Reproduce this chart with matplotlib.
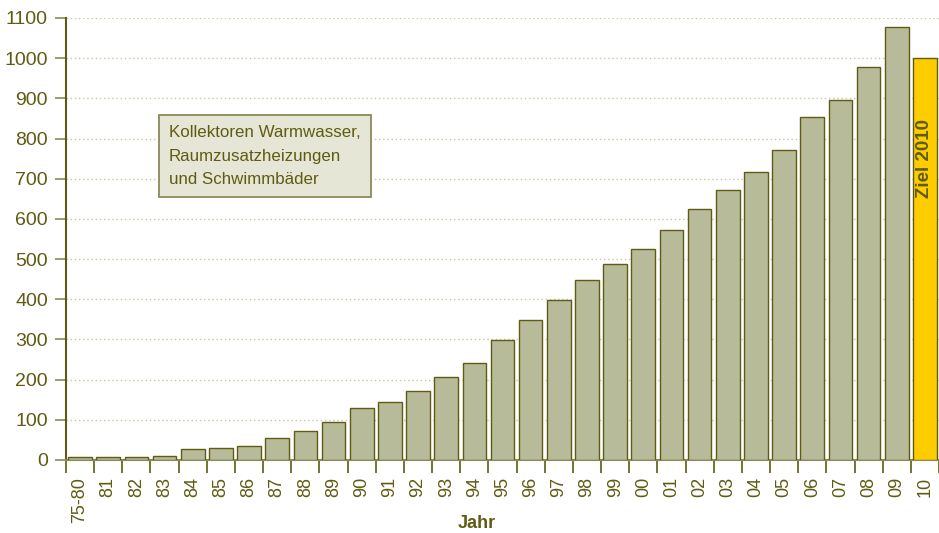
import numpy as np
import matplotlib.pyplot as plt

# Kollektorfläche (1000 m²) je Jahr
jahre = ["75-80", "81", "82", "83", "84", "85", "86", "87", "88", "89",
         "90", "91", "92", "93", "94", "95", "96", "97", "98", "99",
         "00", "01", "02", "03", "04", "05", "06", "07", "08", "09", "10"]
werte = [8, 8, 8, 11, 27, 30, 35, 54, 72, 94,
         129, 144, 172, 206, 241, 299, 348, 398, 448, 488,
         525, 573, 625, 671, 717, 771, 853, 895, 977, 1077, 1000]
yticks = [0, 100, 200, 300, 400, 500, 600, 700, 800, 900, 1000, 1100]

OLIVE = "#5f5b12"
BAR = "#b8bb99"
ZIEL = "#ffcc00"
GRID = "#c9c9a4"

plt.rcParams["font.family"] = ["Liberation Sans", "DejaVu Sans"]

fig = plt.figure(figsize=(9.39, 5.33), dpi=100)
ax = fig.add_axes([66 / 939, 73 / 533, 873 / 939, 442 / 533])

x = np.arange(len(jahre))
farben = [BAR] * (len(jahre) - 1) + [ZIEL]
ax.bar(x, werte, width=0.84, color=farben, edgecolor=OLIVE, linewidth=1.0, zorder=3)

ax.set_xlim(-0.5, len(jahre) - 0.5)
ax.set_ylim(0, 1100)

# y-Achse
ax.set_yticks(yticks)
ax.tick_params(axis="y", length=8, width=1.2, color="#8a8a5a", labelcolor=OLIVE,
               labelsize=14, pad=5)
ax.grid(axis="y", color=GRID, linestyle=(0, (1, 2)), linewidth=1.0, zorder=0)

# x-Achse: Striche an den Grenzen, Beschriftung in der Mitte
ax.set_xticks(np.arange(len(jahre) + 1) - 0.5)
ax.set_xticklabels([])
ax.tick_params(axis="x", which="major", length=9, width=1.2, color=OLIVE)
ax.set_xticks(x, minor=True)
ax.set_xticklabels(jahre, minor=True, rotation=90)
ax.tick_params(axis="x", which="minor", length=0, labelcolor=OLIVE, labelsize=13, pad=12)

for s in ["top", "right"]:
    ax.spines[s].set_visible(False)
ax.spines["left"].set_color(OLIVE)
ax.spines["left"].set_linewidth(1.5)
ax.spines["bottom"].set_color("#8a8a5a")
ax.spines["bottom"].set_linewidth(1.5)

# Ziel 2010
ax.text(x[-1], 750, "Ziel 2010", rotation=90, ha="center", va="center",
        color=OLIVE, fontsize=13.5, fontweight="bold", zorder=4)

# Legendenkasten
fig.text(169 / 939, 1 - 125 / 533,
         "Kollektoren Warmwasser,\nRaumzusatzheizungen\nund Schwimmbäder",
         ha="left", va="top", color=OLIVE, fontsize=12.2, linespacing=1.72,
         bbox=dict(boxstyle="square,pad=0.6", facecolor="#e6e6d6", edgecolor="#8a8a5a",
                   linewidth=1.3))

fig.text(477 / 939, 1 - 524 / 533, "Jahr", ha="center", va="center",
         color=OLIVE, fontsize=13, fontweight="bold")

fig.savefig("out.png", dpi=100)
